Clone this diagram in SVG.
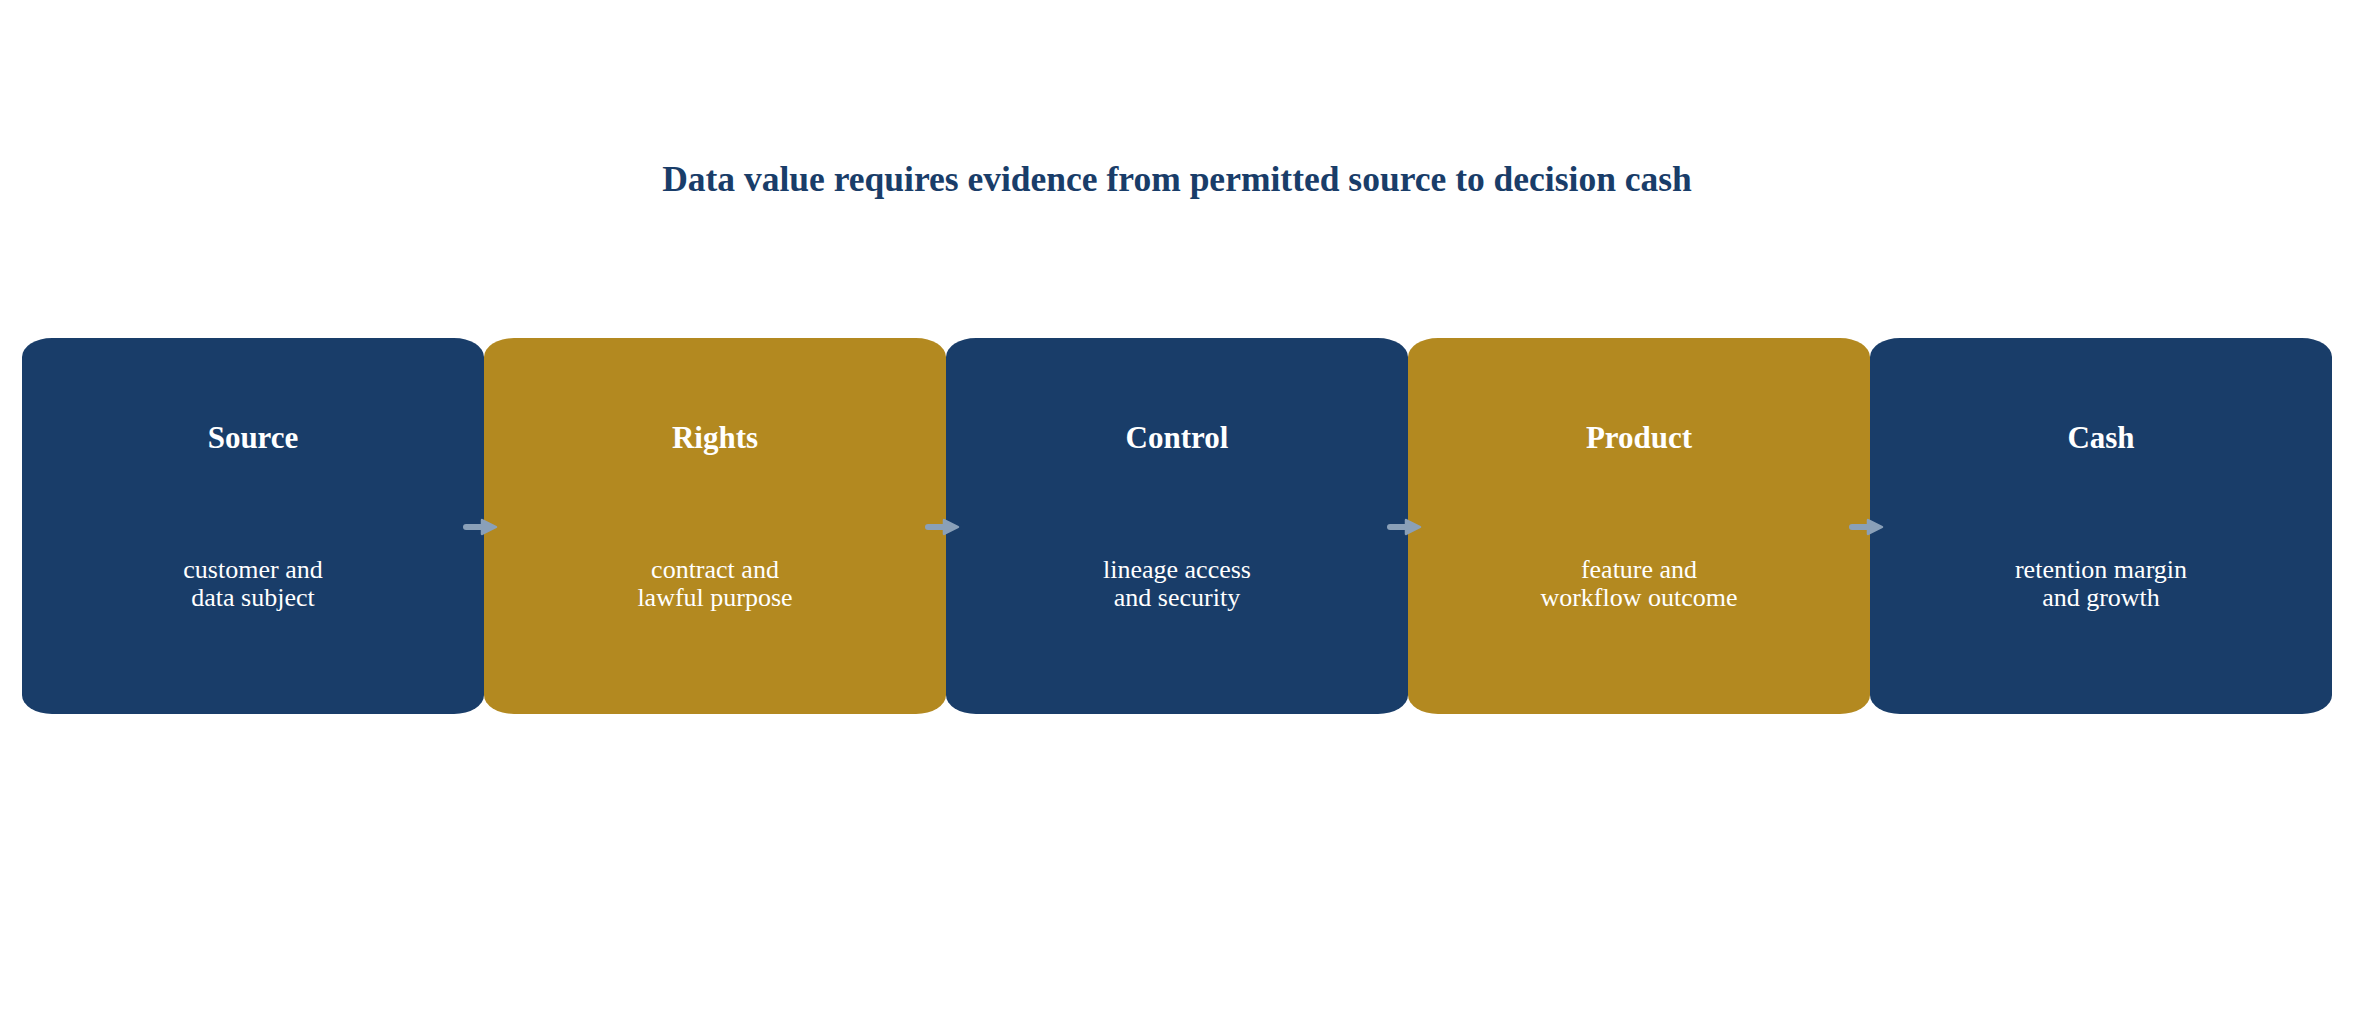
<svg xmlns="http://www.w3.org/2000/svg" width="2354" height="1034" viewBox="0 0 2354 1034">
<style>
.title{font-family:"Liberation Serif","Times New Roman",serif;font-weight:bold;font-size:35.5px;fill:#193d69;text-anchor:middle}
.nt{font-family:"Liberation Serif","Times New Roman",serif;font-weight:bold;font-size:31px;fill:#ffffff;text-anchor:middle}
.ns{font-family:"Liberation Serif","Times New Roman",serif;font-size:26px;fill:#ffffff;text-anchor:middle}
.navy{fill:#193d69}
.gold{fill:#b38920}
.conn{stroke:#8aa0b8;stroke-width:6;stroke-linecap:round;fill:none}
</style>
<defs>
<marker id="ah" viewBox="0 0 20 20" refX="7" refY="10" markerWidth="20" markerHeight="20" markerUnits="userSpaceOnUse" orient="auto">
<path d="M3,3 L17,10 L3,17 Z" fill="#8aa0b8" stroke="#8aa0b8" stroke-width="2.5" stroke-linejoin="round"/>
</marker>
</defs>
<rect width="2354" height="1034" fill="#ffffff"/>
<text class="title" x="1177" y="191">Data value requires evidence from permitted source to decision cash</text>
<g id="node-source">
<rect class="navy" x="22" y="338" width="462" height="376" rx="30" ry="19"/>
<text class="nt" x="253" y="448">Source</text>
<text class="ns" x="253" y="578">customer and</text>
<text class="ns" x="253" y="606">data subject</text>
</g>
<g id="node-rights">
<rect class="gold" x="484" y="338" width="462" height="376" rx="30" ry="19"/>
<text class="nt" x="715" y="448">Rights</text>
<text class="ns" x="715" y="578">contract and</text>
<text class="ns" x="715" y="606">lawful purpose</text>
</g>
<g id="node-control">
<rect class="navy" x="946" y="338" width="462" height="376" rx="30" ry="19"/>
<text class="nt" x="1177" y="448">Control</text>
<text class="ns" x="1177" y="578">lineage access</text>
<text class="ns" x="1177" y="606">and security</text>
</g>
<g id="node-product">
<rect class="gold" x="1408" y="338" width="462" height="376" rx="30" ry="19"/>
<text class="nt" x="1639" y="448">Product</text>
<text class="ns" x="1639" y="578">feature and</text>
<text class="ns" x="1639" y="606">workflow outcome</text>
</g>
<g id="node-cash">
<rect class="navy" x="1870" y="338" width="462" height="376" rx="30" ry="19"/>
<text class="nt" x="2101" y="448">Cash</text>
<text class="ns" x="2101" y="578">retention margin</text>
<text class="ns" x="2101" y="606">and growth</text>
</g>
<g id="connectors">
<line class="conn" x1="466" y1="527" x2="486" y2="527" marker-end="url(#ah)"/>
<line class="conn" x1="928" y1="527" x2="948" y2="527" marker-end="url(#ah)"/>
<line class="conn" x1="1390" y1="527" x2="1410" y2="527" marker-end="url(#ah)"/>
<line class="conn" x1="1852" y1="527" x2="1872" y2="527" marker-end="url(#ah)"/>
</g>
</svg>
